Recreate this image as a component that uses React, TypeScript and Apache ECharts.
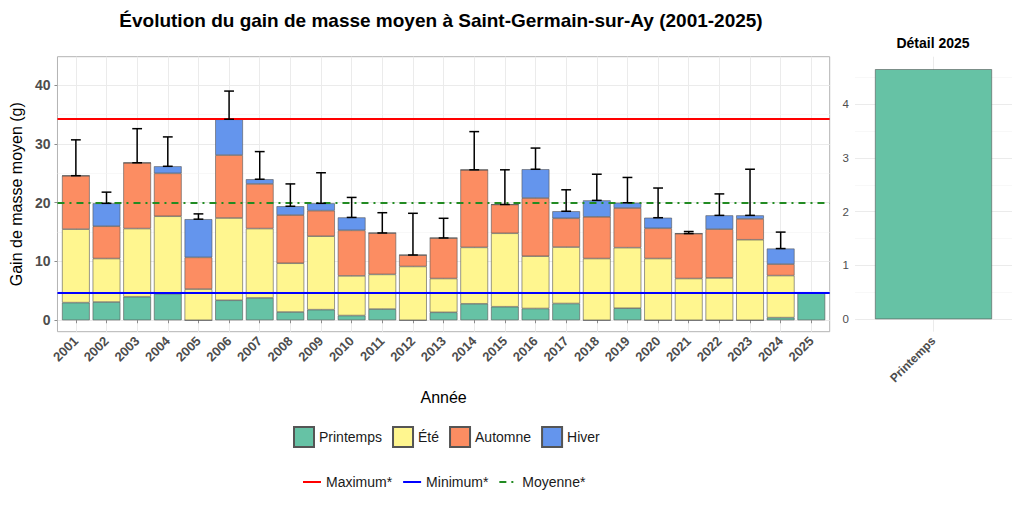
import React, { useEffect, useRef } from 'react';
import * as echarts from 'echarts';

const years = ['2001', '2002', '2003', '2004', '2005', '2006', '2007', '2008', '2009', '2010', '2011', '2012', '2013', '2014', '2015', '2016', '2017', '2018', '2019', '2020', '2021', '2022', '2023', '2024', '2025'];
const seasonNames = ['Printemps', 'Été', 'Automne', 'Hiver'];
const seasonColors = ['#66C2A5', '#FFF68F', '#FC8D62', '#6495ED'];
const printemps = [3.0, 3.1, 4.0, 4.5, 0, 3.4, 3.8, 1.4, 1.8, 0.8, 1.9, 0, 1.35, 2.8, 2.3, 2.0, 2.85, 0, 2.05, 0, 0, 0, 0, 0.45, 4.65];
const ete = [12.5, 7.4, 11.6, 13.2, 5.3, 14.0, 11.8, 8.3, 12.5, 6.75, 5.9, 9.15, 5.75, 9.6, 12.5, 8.9, 9.6, 10.5, 10.3, 10.5, 7.1, 7.2, 13.7, 7.15, 0];
const automne = [9.1, 5.5, 11.2, 7.3, 5.4, 10.7, 7.6, 8.2, 4.35, 7.75, 7.05, 1.95, 6.9, 13.2, 4.9, 9.9, 4.9, 7.1, 6.75, 5.15, 7.65, 8.3, 3.55, 1.95, 0];
const hiver = [0, 3.9, 0, 1.2, 6.5, 6.1, 0.8, 1.5, 1.25, 2.2, 0, 0, 0, 0, 0, 4.9, 1.2, 2.8, 0.9, 1.8, 0, 2.35, 0.6, 2.65, 0];
const ecartType = [6.1, 1.9, 5.8, 5.0, 0.9, 4.8, 4.7, 3.8, 5.2, 3.4, 3.45, 7.1, 3.35, 6.5, 5.9, 3.6, 3.65, 4.45, 4.3, 5.05, 0.35, 3.65, 7.85, 2.8, null];

const detailCategories = ['Printemps'];
const detailValues = [4.65];

const refNames = ['Maximum*', 'Minimum*', 'Moyenne*'];
const refValues = [34.25, 4.65, 20.0];
const refColors = ['#FF0000', '#0000FF', '#228B22'];

const mainYTicks = [0, 10, 20, 30, 40];
const mainYMinor = [5, 15, 25, 35];
const detailYTicks = [0, 1, 2, 3, 4];
const detailYMinor = [0.5, 1.5, 2.5, 3.5, 4.5];

const FONT = 'Liberation Sans, Arial, Helvetica, sans-serif';
const GRID_COLOR = '#EBEBEB';
const LABEL_COLOR = '#4D4D4D';

export default function App() {
  const ref = useRef<HTMLDivElement>(null);

  useEffect(() => {
    if (!ref.current) return;
    const chart = echarts.init(ref.current, null, { renderer: 'svg' });

    const seasonData = [printemps, ete, automne, hiver];
    const xIdx = years.map((_, i) => i + 1);
    const totals = years.map((_, i) => seasonData.reduce((s, arr) => s + arr[i], 0));
    const errData = years
      .map((_, i) => (ecartType[i] == null ? null : [i + 1, totals[i], totals[i] + (ecartType[i] as number)]))
      .filter((d) => d !== null);

    // value first, position second, so that the stack is computed on the value (y) dimension
    const barSeries = seasonNames.map((name, k) => ({
      name,
      type: 'bar',
      stack: 'total',
      xAxisIndex: 0,
      yAxisIndex: 0,
      barWidth: 27.7,
      z: 2,
      encode: { x: 1, y: 0 },
      itemStyle: { color: seasonColors[k], borderColor: '#555555', borderWidth: 0.6 },
      data: xIdx.map((x, i) => [seasonData[k][i], x]),
    }));

    const minorLine = (values: number[], xi: number, yi: number) => ({
      type: 'line',
      xAxisIndex: xi,
      yAxisIndex: yi,
      data: [],
      z: 0,
      silent: true,
      markLine: {
        silent: true,
        symbol: 'none',
        label: { show: false },
        lineStyle: { color: '#F4F4F4', width: 0.6, type: 'solid' },
        data: values.map((v) => ({ yAxis: v })),
        z: 0,
      },
    });

    const refLineStyles: any[] = [
      { color: refColors[0], width: 1.8, type: 'solid' },
      { color: refColors[1], width: 1.8, type: 'solid' },
      { color: refColors[2], width: 2.2, type: [7, 5, 2, 5] },
    ];

    const refSeries = refNames.map((name, k) => ({
      name,
      type: 'line',
      xAxisIndex: 0,
      yAxisIndex: 0,
      data: [],
      symbol: 'none',
      z: 3,
      lineStyle: refLineStyles[k],
      itemStyle: { color: refColors[k] },
      markLine: {
        silent: true,
        symbol: 'none',
        label: { show: false },
        lineStyle: refLineStyles[k],
        data: [{ yAxis: refValues[k] }],
        z: 3,
      },
    }));

    const option: any = {
      animation: false,
      backgroundColor: '#ffffff',
      textStyle: { fontFamily: FONT },
      graphic: [
        {
          type: 'text',
          x: 441,
          y: 20,
          style: {
            text: 'Évolution du gain de masse moyen à Saint-Germain-sur-Ay (2001-2025)',
            fontSize: 19,
            fontWeight: 'bold',
            fontFamily: FONT,
            fill: '#000',
            textAlign: 'center',
            textVerticalAlign: 'middle',
          },
        },
        {
          type: 'text',
          x: 933,
          y: 43,
          style: {
            text: 'Détail 2025',
            fontSize: 14,
            fontWeight: 'bold',
            fontFamily: FONT,
            fill: '#000',
            textAlign: 'center',
            textVerticalAlign: 'middle',
          },
        },
      ],
      legend: [
        {
          data: seasonNames.map((n) => ({ name: n, icon: 'rect' })),
          left: 293,
          top: 426,
          padding: 0,
          orient: 'horizontal',
          itemWidth: 20,
          itemHeight: 20,
          itemGap: 10,
          textStyle: { fontSize: 14, color: '#1A1A1A', fontFamily: FONT },
          selectedMode: false,
        },
        {
          data: refNames,
          left: 302,
          top: 475,
          padding: 0,
          orient: 'horizontal',
          itemWidth: 18,
          itemHeight: 14,
          itemGap: 10,
          itemStyle: { opacity: 0 },
          textStyle: { fontSize: 14, color: '#1A1A1A', fontFamily: FONT },
          selectedMode: false,
        },
      ],
      grid: [
        {
          left: 53.3,
          top: 56.7,
          width: 776.4,
          height: 275,
          show: true,
          borderColor: '#B3B3B3',
          borderWidth: 1,
          backgroundColor: 'transparent',
          containLabel: false,
        },
        {
          left: 855,
          top: 56.7,
          width: 157,
          height: 275,
          show: false,
          containLabel: false,
        },
      ],
      xAxis: [
        {
          type: 'value',
          gridIndex: 0,
          min: 0.4,
          max: 25.6,
          name: 'Année',
          nameLocation: 'middle',
          nameGap: 58,
          nameTextStyle: { fontSize: 16, color: '#000', fontFamily: FONT },
          axisLine: { show: false },
          axisTick: { show: true, length: 3, customValues: xIdx, lineStyle: { color: '#8C8C8C' } },
          axisLabel: {
            customValues: xIdx,
            formatter: (v: number) => years[Math.round(v) - 1] || '',
            rotate: 45,
            fontSize: 13,
            fontWeight: 'bold',
            color: LABEL_COLOR,
            margin: 7,
            fontFamily: FONT,
          },
          splitLine: { show: true, lineStyle: { color: GRID_COLOR, width: 1 } },
        },
        {
          type: 'value',
          gridIndex: 1,
          min: 0.4,
          max: 1.6,
          axisLine: { show: false },
          axisTick: { show: false, customValues: [1] },
          axisLabel: {
            customValues: [1],
            formatter: (v: number) => detailCategories[Math.round(v) - 1] || '',
            rotate: 45,
            fontSize: 12,
            fontWeight: 'bold',
            color: LABEL_COLOR,
            margin: 7,
            fontFamily: FONT,
          },
          splitLine: { show: true, lineStyle: { color: GRID_COLOR, width: 1 } },
        },
      ],
      yAxis: [
        {
          type: 'value',
          gridIndex: 0,
          min: -1.95,
          max: 44.85,
          name: 'Gain de masse moyen (g)',
          nameLocation: 'middle',
          nameGap: 22,
          nameTextStyle: { fontSize: 16, color: '#000', fontFamily: FONT },
          axisLine: { show: false },
          axisTick: { show: true, length: 3, customValues: mainYTicks, lineStyle: { color: '#8C8C8C' } },
          axisLabel: {
            customValues: mainYTicks,
            fontSize: 14,
            fontWeight: 'bold',
            color: LABEL_COLOR,
            margin: 7,
            fontFamily: FONT,
          },
          splitLine: { show: true, lineStyle: { color: GRID_COLOR, width: 1 } },
        },
        {
          type: 'value',
          gridIndex: 1,
          min: -0.2325,
          max: 4.8825,
          axisLine: { show: false },
          axisTick: { show: false, customValues: detailYTicks },
          axisLabel: {
            customValues: detailYTicks,
            fontSize: 11.5,
            color: LABEL_COLOR,
            margin: 6,
            fontFamily: FONT,
          },
          splitLine: { show: true, lineStyle: { color: GRID_COLOR, width: 1 } },
        },
      ],
      series: [
        minorLine(mainYMinor, 0, 0),
        minorLine(detailYMinor, 1, 1),
        ...barSeries,
        ...refSeries,
        {
          name: 'errorbars',
          type: 'custom',
          xAxisIndex: 0,
          yAxisIndex: 0,
          z: 5,
          silent: true,
          encode: { x: 0, y: [1, 2] },
          data: errData,
          renderItem: (params: any, api: any) => {
            const x = api.value(0);
            const lo = api.coord([x, api.value(1)]);
            const hi = api.coord([x, api.value(2)]);
            const hw = api.size([0.32, 0])[0] / 2;
            const style = { stroke: '#000000', lineWidth: 1.5, fill: 'none' };
            return {
              type: 'group',
              children: [
                { type: 'line', shape: { x1: lo[0], y1: lo[1], x2: hi[0], y2: hi[1] }, style },
                { type: 'line', shape: { x1: hi[0] - hw, y1: hi[1], x2: hi[0] + hw, y2: hi[1] }, style },
                { type: 'line', shape: { x1: lo[0] - hw, y1: lo[1], x2: lo[0] + hw, y2: lo[1] }, style },
              ],
            };
          },
        },
        {
          name: 'Printemps',
          type: 'bar',
          xAxisIndex: 1,
          yAxisIndex: 1,
          barWidth: 117,
          z: 2,
          itemStyle: { color: seasonColors[0], borderColor: '#555555', borderWidth: 0.6 },
          data: detailValues.map((v, i) => [i + 1, v]),
        },
      ],
    };

    chart.setOption(option);
    return () => chart.dispose();
  }, []);

  return (
    <div
      ref={ref}
      style={{ position: 'fixed', left: 0, top: 0, width: 1024, height: 512, background: '#fff' }}
    />
  );
}
